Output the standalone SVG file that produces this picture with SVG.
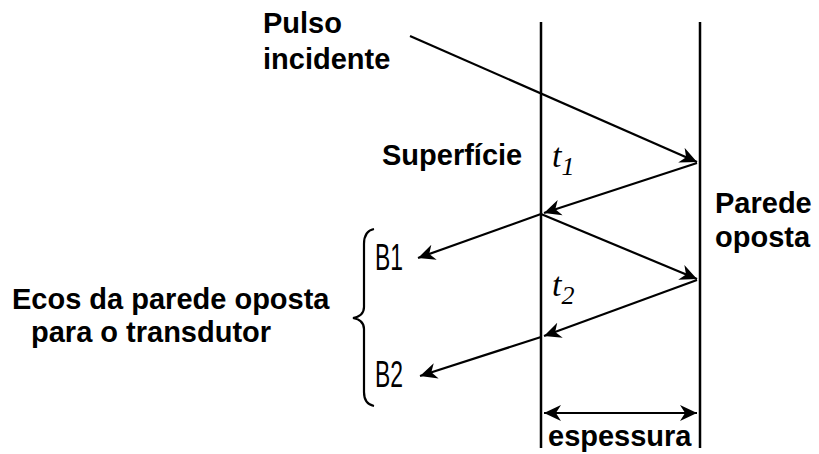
<svg xmlns="http://www.w3.org/2000/svg" width="819" height="454" viewBox="0 0 819 454">
<defs>
<marker id="ahb" viewBox="0 0 10 10" refX="10" refY="5" markerWidth="17" markerHeight="17" markerUnits="userSpaceOnUse" orient="auto-start-reverse"><path d="M0,0.3 L10,5 L0,9.7 L3,5 Z" fill="#000"/></marker>
<style>
.ln{stroke:#000;stroke-width:2.2;fill:none}
.wall{stroke:#000;stroke-width:2.5;fill:none}
.lb{font-family:"Liberation Sans",Arial,sans-serif;font-weight:bold;font-size:29px;fill:#000}
.bl{font-family:"Liberation Sans",Arial,sans-serif;font-size:36px;fill:#000}
.t{font-family:"Liberation Serif","Times New Roman",serif;font-style:italic;font-size:34px;fill:#000}
.sub{font-size:26px}
</style>
</defs>
<g id="walls">
<line class="wall" x1="541" y1="22" x2="541" y2="448"/>
<line class="wall" x1="700" y1="22" x2="700" y2="448"/>
</g>
<g id="connectors">
<line class="ln" x1="410" y1="36" x2="697" y2="162" marker-end="url(#ahb)"/>
<line class="ln" x1="697" y1="163" x2="544" y2="213" marker-end="url(#ahb)"/>
<line class="ln" x1="541" y1="214" x2="418" y2="258" marker-end="url(#ahb)"/>
<line class="ln" x1="541" y1="214" x2="697" y2="279" marker-end="url(#ahb)"/>
<line class="ln" x1="697" y1="280" x2="544" y2="336" marker-end="url(#ahb)"/>
<line class="ln" x1="541" y1="337" x2="420" y2="376" marker-end="url(#ahb)"/>
<line class="ln" x1="544" y1="413" x2="697" y2="413" stroke-width="2.5" marker-start="url(#ahb)" marker-end="url(#ahb)"/>
<path class="ln" d="M374,229 Q364,231 364,244 L364,307 Q364,316 353,318 Q364,320 364,329 L364,392 Q364,404 374,406" stroke-width="1.8"/>
</g>
<g id="pulso"><text class="lb" x="263" y="33">Pulso</text><text class="lb" x="263" y="69">incidente</text></g>
<g id="superficie"><text class="lb" x="382" y="165">Superfície</text></g>
<g id="t1"><text class="t" x="552" y="167">t<tspan class="sub" dy="8">1</tspan></text></g>
<g id="t2"><text class="t" x="552" y="296">t<tspan class="sub" dy="8">2</tspan></text></g>
<g id="parede"><text class="lb" x="715" y="213">Parede</text><text class="lb" x="715" y="247">oposta</text></g>
<g id="b1"><text class="bl" x="375" y="270" textLength="28" lengthAdjust="spacingAndGlyphs">B1</text></g>
<g id="b2"><text class="bl" x="375" y="387" textLength="28" lengthAdjust="spacingAndGlyphs">B2</text></g>
<g id="ecos"><text class="lb" x="12" y="309">Ecos da parede oposta</text><text class="lb" x="31" y="342">para o transdutor</text></g>
<g id="espessura"><text class="lb" x="548" y="446">espessura</text></g>
</svg>
